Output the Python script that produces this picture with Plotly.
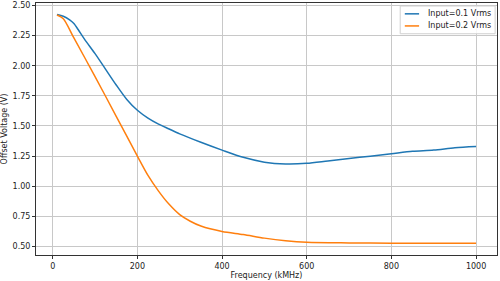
import plotly.graph_objects as go

freq_blue = [10, 25, 40, 50, 60, 75, 100, 125, 150, 175, 200, 225, 250, 275, 300, 350, 400, 450, 500, 550, 600, 650, 700, 750, 800, 850, 900, 950, 1000]
volt_blue = [2.425, 2.41, 2.38, 2.35, 2.30, 2.22, 2.10, 1.97, 1.84, 1.72, 1.63, 1.565, 1.515, 1.475, 1.435, 1.365, 1.30, 1.24, 1.20, 1.185, 1.19, 1.21, 1.23, 1.25, 1.27, 1.29, 1.30, 1.32, 1.33]

freq_orange = [10, 25, 50, 100, 150, 200, 225, 250, 275, 300, 325, 350, 400, 450, 500, 550, 600, 700, 800, 900, 1000]
volt_orange = [2.42, 2.39, 2.23, 1.91, 1.58, 1.25, 1.09, 0.96, 0.85, 0.765, 0.71, 0.67, 0.625, 0.60, 0.57, 0.548, 0.535, 0.53, 0.528, 0.527, 0.527]

x_ticks = [0, 200, 400, 600, 800, 1000]
y_ticks = [0.50, 0.75, 1.00, 1.25, 1.50, 1.75, 2.00, 2.25, 2.50]

series_names = ["Input=0.1 Vrms", "Input=0.2 Vrms"]
series_colors = ["#1f77b4", "#ff7f0e"]

fig = go.Figure()
fig.add_trace(go.Scatter(x=freq_blue, y=volt_blue, mode="lines", name=series_names[0],
                         line=dict(color=series_colors[0], width=1.5, shape="spline", smoothing=0.8)))
fig.add_trace(go.Scatter(x=freq_orange, y=volt_orange, mode="lines", name=series_names[1],
                         line=dict(color=series_colors[1], width=1.5, shape="spline", smoothing=0.8)))

axis_common = dict(showgrid=True, gridcolor="#c8c8c8", gridwidth=1, showline=True, linecolor="#333333",
                   linewidth=1, mirror=True, ticks="outside", ticklen=3, tickcolor="#333333",
                   ticklabeloverflow="allow",
                   tickfont=dict(family="DejaVu Sans", size=8, color="#222222"), zeroline=False)

# compact legend drawn as box + sample lines + labels (paper coords)
shapes = [dict(type="rect", xref="paper", yref="paper", x0=0.790, x1=0.996, y0=0.878, y1=0.988,
               line=dict(color="#d0d0d0", width=1), fillcolor="rgba(255,255,255,0.85)", layer="above")]
annotations = []
row_y = [0.957, 0.909]
for name, color, yy in zip(series_names, series_colors, row_y):
    shapes.append(dict(type="line", xref="paper", yref="paper", x0=0.800, x1=0.831, y0=yy, y1=yy,
                       line=dict(color=color, width=1.5), layer="above"))
    annotations.append(dict(text=name, xref="paper", yref="paper", x=0.846, y=yy, xanchor="left",
                            yanchor="middle", showarrow=False, font=dict(family="DejaVu Sans", size=8, color="#222222")))

fig.update_layout(
    width=500, height=281,
    margin=dict(l=36, r=3, t=1, b=26),
    paper_bgcolor="white", plot_bgcolor="white",
    font=dict(family="DejaVu Sans", size=8, color="#222222"),
    xaxis=dict(range=[-39.5, 1049.5], tickvals=x_ticks,
               title=dict(text="Frequency (kMHz)", standoff=2, font=dict(size=8)), **axis_common),
    yaxis=dict(range=[0.43, 2.52], tickvals=y_ticks, tickformat=".2f",
               title=dict(text="Offset Voltage (V)", standoff=3, font=dict(size=8)), **axis_common),
    showlegend=False,
    shapes=shapes,
    annotations=annotations,
)

fig.write_html("out.html")
